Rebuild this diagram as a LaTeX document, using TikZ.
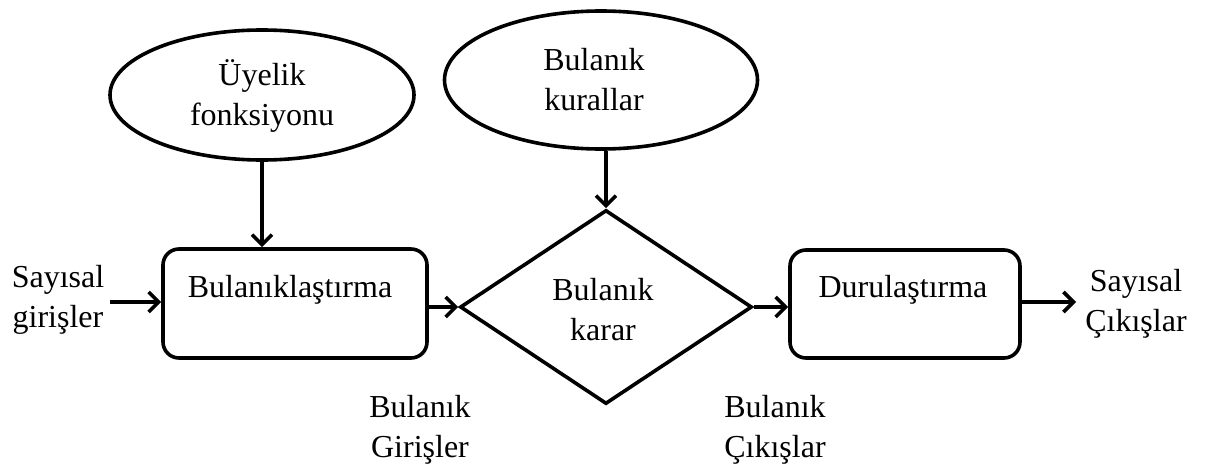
\documentclass[tikz,border=0pt]{standalone}
\usepackage{fontspec}
\setmainfont{Liberation Serif}
\usetikzlibrary{shapes.geometric,arrows.meta}
\begin{document}
\begin{tikzpicture}[x=1pt,y=-1pt,
  line width=3.6pt,
  txt/.style={font=\fontsize{32}{40}\selectfont, align=center, inner sep=0pt},
  blk/.style={draw, rounded corners=16pt, inner sep=0pt},
  oval/.style={draw, ellipse, inner sep=0pt},
  arr/.style={-{Straight Barb[length=10pt,width=20pt,line width=3.6pt]}},
]
\useasboundingbox (0,0) rectangle (1210,466);

% knowledge sources
\node[oval, minimum width=304pt, minimum height=130pt] (mf) at (262,95) {};
\node[txt] (mft) at (262,96) {Üyelik\\fonksiyonu};
\node[oval, minimum width=313pt, minimum height=138pt] (rb) at (601,80) {};
\node[txt] (rbt) at (594,80) {Bulanık\\kurallar};

% processing chain
\node[blk, minimum width=264pt, minimum height=109pt] (fz) at (295,303.5) {};
\node[txt] (fzt) at (290,290) {Bulanıklaştırma};
\node[draw, diamond, aspect=1.5, minimum width=292pt, minimum height=194pt, inner sep=0pt] (inf) at (606,307) {};
\node[txt] (inft) at (603,310) {Bulanık\\karar};
\node[blk, minimum width=230pt, minimum height=108pt] (df) at (905,304) {};
\node[txt] (dft) at (903,290) {Durulaştırma};

% outer labels
\node[txt] (in) at (58,300) {Sayısal\\girişler};
\node[txt] (out) at (1136,304) {Sayısal\\Çıkışlar};
\node[txt] (fin) at (420,430) {Bulanık\\Girişler};
\node[txt] (fout) at (775,430) {Bulanık\\Çıkışlar};

% connectors
\coordinate (ina) at (110,302);
\coordinate (outb) at (1076,302);
\draw[arr] (ina) -- (fz.west |- ina);
\draw[arr] (fz.east |- inf.west) -- (inf.west);
\draw[arr] (inf.east) -- (df.west |- inf.east);
\draw[arr] (df.east |- outb) -- (outb);
\draw[arr] (mf.south) -- (fz.north -| mf.south);
\draw[arr] (rb.south -| inf.north) -- (inf.north);
\end{tikzpicture}
\end{document}
